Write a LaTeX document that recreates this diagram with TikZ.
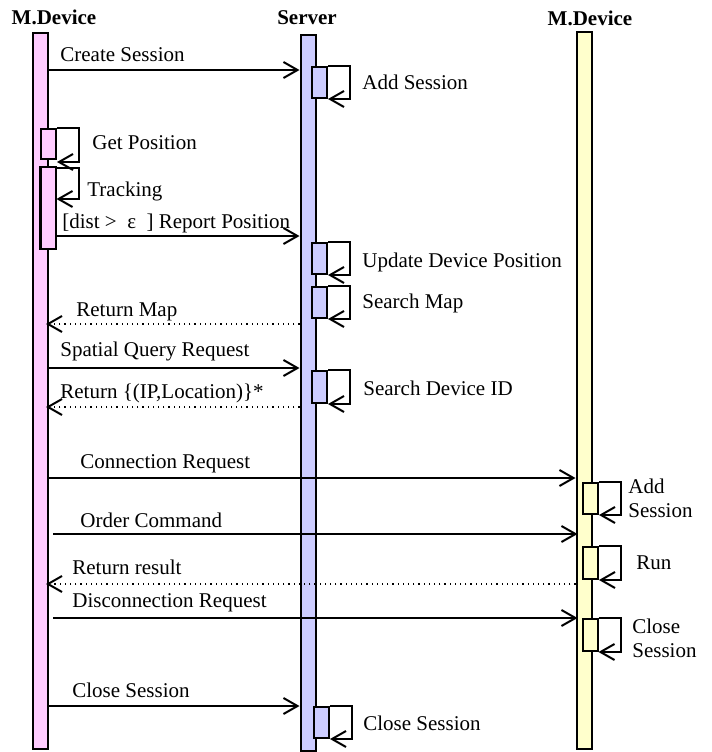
\documentclass[tikz,border=0pt]{standalone}
\usepackage{fontspec}
\setmainfont{Liberation Serif}
\usetikzlibrary{arrows.meta,positioning}
\definecolor{devpink}{HTML}{FFCCFF}
\definecolor{srvblue}{HTML}{CCCCFF}
\definecolor{devyellow}{HTML}{FFFFCC}
\tikzstyle{lifeline} = [rectangle, draw, line width=1pt, anchor=north west, minimum width=7.5pt, inner sep=0pt]
\tikzstyle{activation} = [rectangle, draw, line width=1pt, anchor=north west, minimum width=7.5pt, minimum height=15.5pt, inner sep=0pt]
\tikzstyle{connector} = [line width=1pt, -{Straight Barb[length=7pt,width=8pt]}]
\tikzstyle{reply} = [line width=0.6pt, dotted, -{Straight Barb[length=7pt,width=8pt,line width=1pt]}]
\tikzstyle{selfcall} = [line width=1pt, -{Straight Barb[length=7pt,width=8pt]}]
\tikzstyle{msgtext} = [anchor=west, inner sep=0pt, font=\fontsize{10.5}{12}\selectfont]
\tikzstyle{header} = [inner sep=0pt, font=\fontsize{10.5}{12}\selectfont\bfseries]

\begin{document}
\begin{tikzpicture}[x=0.5pt, y=-0.5pt]
        \useasboundingbox (0,0) rectangle (712,752);
        % lifelines
        \node (dev-1) [lifeline, fill=devpink, minimum height=358pt] at (32,32) {};
        \node (srv) [lifeline, fill=srvblue, minimum height=358pt] at (299.5,34) {};
        \node (dev-2) [lifeline, fill=devyellow, minimum height=358.5pt] at (575.5,31) {};
        \node (head-1) [header] at (54,17) {M.Device};
        \node (head-2) [header] at (307,18) {Server};
        \node (head-3) [header] at (590,18) {M.Device};
        % activations
        \node (add-sess) [activation, fill=srvblue] at (311,66) {};
        \node (get-pos) [activation, fill=devpink, minimum height=15pt] at (40,128) {};
        \node (track) [activation, fill=devpink, minimum height=41pt] at (39.5,166) {};
        \node (upd-pos) [activation, fill=srvblue] at (311,242) {};
        \node (search-map) [activation, fill=srvblue] at (311,286) {};
        \node (search-id) [activation, fill=srvblue, minimum height=16pt] at (311,370) {};
        \node (add-sess-2) [activation, fill=devyellow] at (582,482) {};
        \node (run) [activation, fill=devyellow, minimum height=16pt] at (582,546) {};
        \node (close-sess-2) [activation, fill=devyellow, minimum height=16pt] at (581.5,618) {};
        \node (close-sess) [activation, fill=srvblue] at (313,706) {};
        % self calls
        \draw [selfcall] (add-sess.north east) -- ++(22,0) |- (add-sess.south east);
        \draw [selfcall] (get-pos.north east) -- ++(22,0) |- ([yshift=-1pt]get-pos.south east);
        \draw [selfcall] (track.north east) ++(0,2) -- ++(22,0) -- ++(0,31) -- ++(-22,0);
        \draw [selfcall] (upd-pos.north east) -- ++(22,0) |- (upd-pos.south east);
        \draw [selfcall] (search-map.north east) -- ++(22,0) |- (search-map.south east);
        \draw [selfcall] (search-id.north east) -- ++(22,0) |- (search-id.south east);
        \draw [selfcall] (add-sess-2.north east) -- ++(22,0) |- (add-sess-2.south east);
        \draw [selfcall] (run.north east) -- ++(22,0) |- (run.south east);
        \draw [selfcall] (close-sess-2.north east) -- ++(22,0) |- (close-sess-2.south east);
        \draw [selfcall] (close-sess.north east) -- ++(22,0) |- (close-sess.south east);
        % self call labels
        \node (lbl-add) [msgtext] at (362,82) {Add Session};
        \node (lbl-get) [msgtext] at (92,143) {Get Position};
        \node (lbl-track) [msgtext] at (87,191) {Tracking};
        \node (lbl-upd) [msgtext] at (362,262) {Update Device Position};
        \node (lbl-map) [msgtext] at (362,303) {Search Map};
        \node (lbl-id) [msgtext] at (363,388) {Search Device ID};
        \node (lbl-add-2) [msgtext, align=left] at (628,498) {Add\\Session};
        \node (lbl-run) [msgtext] at (636,563) {Run};
        \node (lbl-close-2) [msgtext, align=left] at (632,638) {Close\\Session};
        \node (lbl-close) [msgtext] at (363,723) {Close Session};
        % message rows
        \coordinate (m-create) at (0,70);
        \coordinate (m-report) at (0,236);
        \coordinate (m-map) at (0,324);
        \coordinate (m-query) at (0,368);
        \coordinate (m-ret) at (0,407);
        \coordinate (m-conn) at (0,478);
        \coordinate (m-order) at (0,534);
        \coordinate (m-result) at (0,584);
        \coordinate (m-disc) at (0,618);
        \coordinate (m-close) at (0,706);
        % messages
        \draw [connector] (dev-1.east |- m-create) -- (srv.west |- m-create);
        \draw [connector] (track.east |- m-report) -- (srv.west |- m-report);
        \draw [reply] (srv.west |- m-map) -- ([xshift=-1.5pt]dev-1.east |- m-map);
        \draw [connector] (dev-1.east |- m-query) -- (srv.west |- m-query);
        \draw [reply] (srv.west |- m-ret) -- ([xshift=-1.5pt]dev-1.east |- m-ret);
        \draw [connector] (dev-1.east |- m-conn) -- (dev-2.west |- m-conn);
        \draw [connector] ([xshift=2pt]dev-1.east |- m-order) -- ([xshift=1pt]dev-2.west |- m-order);
        \draw [reply] (dev-2.west |- m-result) -- ([xshift=-1.5pt]dev-1.east |- m-result);
        \draw [connector] ([xshift=2pt]dev-1.east |- m-disc) -- ([xshift=1pt]dev-2.west |- m-disc);
        \draw [connector] (dev-1.east |- m-close) -- (srv.west |- m-close);
        % message labels
        \node (lbl-m-create) [msgtext] at (60,55) {Create Session};
        \node (lbl-m-report) [msgtext] at (62,223) {[dist >\ \ ε\ \ ] Report Position};
        \node (lbl-m-map) [msgtext] at (76,312) {Return Map};
        \node (lbl-m-query) [msgtext] at (60,351) {Spatial Query Request};
        \node (lbl-m-ret) [msgtext] at (60,393) {Return \{(IP,Location)\}*};
        \node (lbl-m-conn) [msgtext] at (80,464) {Connection Request};
        \node (lbl-m-order) [msgtext] at (80,520) {Order Command};
        \node (lbl-m-result) [msgtext] at (72,567) {Return result};
        \node (lbl-m-disc) [msgtext] at (72,603) {Disconnection Request};
        \node (lbl-m-close) [msgtext] at (72,690) {Close Session};
    \end{tikzpicture}
\end{document}
